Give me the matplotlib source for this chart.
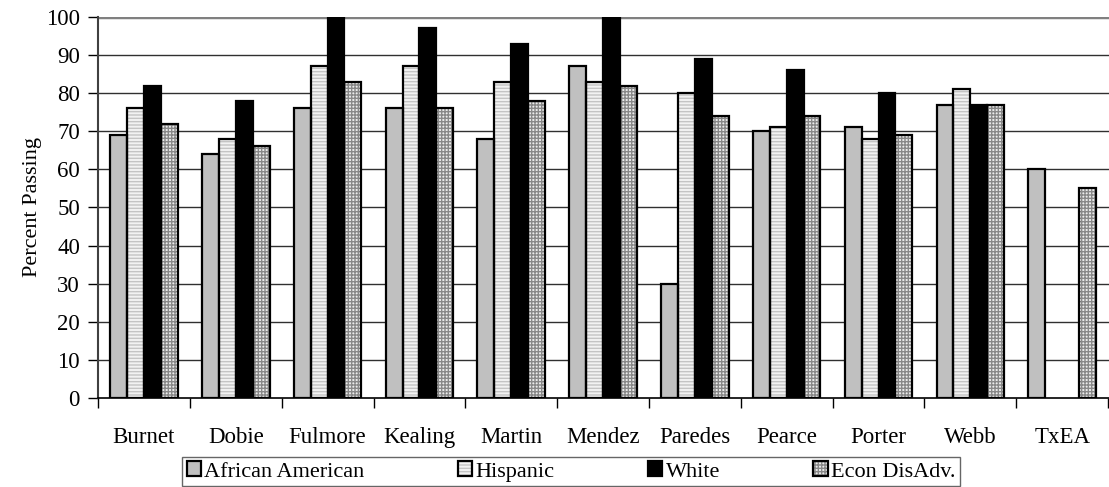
#!/usr/bin/env python

import matplotlib.pyplot as plt
import numpy as np

schools = ['Burnet', 'Dobie', 'Fulmore', 'Kealing', 'Martin', 'Mendez',
           'Paredes', 'Pearce', 'Porter', 'Webb', 'TxEA']
african_american = [69, 64, 76, 76, 68, 87, 30, 70, 71, 77, 60]
hispanic = [76, 68, 87, 87, 83, 83, 80, 71, 68, 81, np.nan]
white = [82, 78, 100, 97, 93, 100, 89, 86, 80, 77, np.nan]
econ_disadv = [72, 66, 83, 76, 78, 82, 74, 74, 69, 77, 55]
series_names = ['African American', 'Hispanic', 'White', 'Econ DisAdv.']

plt.rcParams['font.family'] = ['Liberation Serif', 'DejaVu Serif']
plt.rcParams['hatch.linewidth'] = 1.0

fig = plt.figure(figsize=(11.09, 4.87), dpi=100)
ax = fig.add_axes([0.0884, 0.1828, 0.9116, 0.7824])

x = np.arange(len(schools))
bw = 0.184
styles = [
    dict(fc='#c0c0c0', hatch=None, hc='#c0c0c0'),
    dict(fc='#f2f2f2', hatch='-----', hc='#c4c4c4'),
    dict(fc='black', hatch=None, hc='black'),
    dict(fc='#ececec', hatch='+++++', hc='#888888'),
]
data = [african_american, hispanic, white, econ_disadv]

for y in range(10, 100, 10):
    ax.axhline(y, color='#303030', lw=1.0, zorder=0)
ax.axhline(100, color='#808080', lw=2.5, zorder=0)

# hatch colour follows edgecolor, so fill and outline are drawn separately
handles = []
for i, (vals, st) in enumerate(zip(data, styles)):
    pos = x + (i - 1.5) * bw
    ax.bar(pos, vals, bw, color=st['fc'], edgecolor=st['hc'],
           hatch=st['hatch'], linewidth=0, zorder=2)
    ax.bar(pos, vals, bw, fill=False, edgecolor='black', linewidth=1.6,
           zorder=3)
    fill = plt.Rectangle((0, 0), 1, 1, facecolor=st['fc'],
                         edgecolor=st['hc'], hatch=st['hatch'], linewidth=0)
    edge = plt.Rectangle((0, 0), 1, 1, fill=False, edgecolor='black',
                         linewidth=1.6)
    handles.append((fill, edge))

ax.set_xlim(-0.5, len(schools) - 0.5 + 0.01)
ax.set_ylim(0, 100)
ax.set_yticks(range(0, 101, 10))
ax.set_xticks(x)
ax.set_xticklabels(schools, fontsize=16.5)
ax.set_xticks(np.arange(-0.5, len(schools), 1.0), minor=True)
ax.tick_params(axis='x', which='major', length=0, pad=21)
ax.tick_params(axis='x', which='minor', length=7, width=1, direction='out')
ax.tick_params(axis='y', labelsize=16.5, length=7, width=1, direction='out', pad=6)
ax.set_ylabel('Percent Passing', fontsize=16, labelpad=3)

for side in ['top', 'right']:
    ax.spines[side].set_visible(False)
ax.spines['left'].set_color('#404040')
ax.spines['left'].set_linewidth(1.5)
ax.spines['bottom'].set_linewidth(1.2)

leg = fig.legend(handles, series_names, loc='center',
                 bbox_to_anchor=(0.515, 0.032), ncol=4, fontsize=16,
                 frameon=True, fancybox=False, edgecolor='#404040',
                 handlelength=0.65, handleheight=0.65, handletextpad=0.15,
                 columnspacing=4.2, borderpad=0.2, borderaxespad=0)
leg.get_frame().set_linewidth(1.0)
leg.get_frame().set_boxstyle('square', pad=0)

fig.savefig('out.png', dpi=100)
